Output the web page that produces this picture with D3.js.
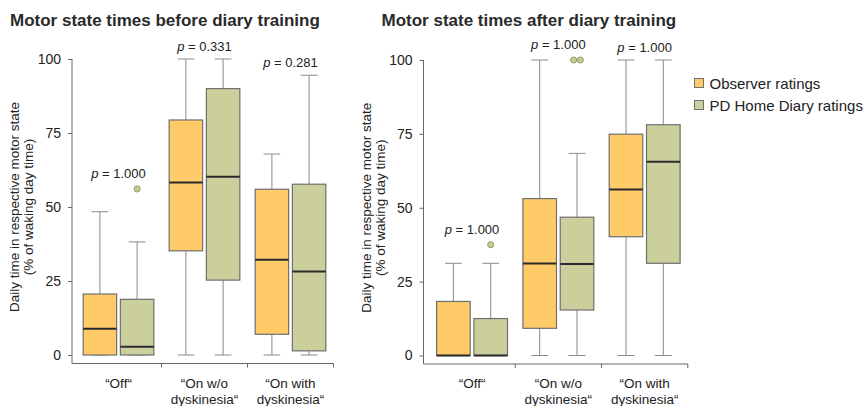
<!DOCTYPE html>
<html>
<head>
<meta charset="utf-8">
<script src="https://cdn.jsdelivr.net/npm/d3@7/dist/d3.min.js"></script>
<style>
  html, body { margin: 0; padding: 0; background: #fff; }
  svg { display: block; font-family: "Liberation Sans", Arial, Helvetica, sans-serif; }
</style>
</head>
<body>
<svg id="chart" width="866" height="406"></svg>
<script>
// Motor state categories (x axis) and rating sources (box colours)
const categories = ["Off", "On w/o dyskinesia", "On with dyskinesia"];
const categoryLines = [["\u201COff\u201C"], ["\u201COn w/o", "dyskinesia\u201C"], ["\u201COn with", "dyskinesia\u201C"]];
const series = ["Observer ratings", "PD Home Diary ratings"];
const seriesColors = ["#FECB68", "#CBCF9C"];
const yTicks = [0, 25, 50, 75, 100];

// Box statistics, % of waking day time: [whiskerLow, q1, median, q3, whiskerHigh]
const beforeObserver = [[0, 0, 8.9, 20.6, 48.4], [0, 35.2, 58.3, 79.4, 100], [0, 7.0, 32.2, 56.0, 67.9]];
const beforeDiary    = [[0, 0, 2.8, 18.8, 38.2], [0, 25.3, 60.2, 90.0, 100], [0, 1.4, 28.2, 57.7, 94.5]];
const beforeOutliersObserver = [[], [], []];
const beforeOutliersDiary    = [[56.1], [], []];
const beforePValues = ["1.000", "0.331", "0.281"];

const afterObserver = [[0, 0, 0, 18.3, 31.2], [0, 9.2, 31.1, 53.1, 100], [0, 40.2, 56.2, 74.9, 100]];
const afterDiary    = [[0, 0, 0, 12.5, 31.2], [0, 15.4, 31.0, 46.8, 68.4], [0, 31.2, 65.6, 78.1, 100]];
const afterOutliersObserver = [[], [], []];
const afterOutliersDiary    = [[37.5], [100, 100], []];
const afterPValues = ["1.000", "1.000", "1.000"];

const svg = d3.select("#chart");
const textColor = "#222";
const axisColor = "#666";

function panel(opts) {
  const g = svg.append("g");
  const y = d3.scaleLinear().domain([0, 100]).range([opts.y0, opts.y100]);
  const x = d3.scaleBand().domain(categories).range(opts.xRange).padding(0);
  const sub = d3.scaleBand().domain(series).range([0, x.step()])
    .paddingInner(0.1).paddingOuter(0.206);
  const bw = sub.bandwidth();

  // title
  g.append("text").attr("x", opts.titleX).attr("y", 26)
    .attr("font-size", 17).attr("font-weight", "bold").attr("fill", "#2a2a2a")
    .text(opts.title);

  // y axis with left ticks
  const yAxis = g.append("g").attr("transform", `translate(${opts.axisX},0)`)
    .call(d3.axisLeft(y).tickValues(yTicks).tickSize(4).tickPadding(opts.tickPad).tickFormat(d3.format("d")))
    .attr("font-family", null).attr("font-size", null);
  yAxis.select(".domain").remove();
  yAxis.selectAll(".tick line").attr("stroke", axisColor);
  yAxis.selectAll(".tick text").attr("font-size", 14).attr("fill", textColor);
  g.append("line").attr("x1", opts.axisX).attr("x2", opts.axisX)
    .attr("y1", y(100)).attr("y2", opts.xAxisY).attr("stroke", axisColor);

  // x axis: baseline with separators between categories
  g.append("line").attr("x1", opts.axisX).attr("x2", opts.xRange[1])
    .attr("y1", opts.xAxisY).attr("y2", opts.xAxisY).attr("stroke", axisColor);
  categories.forEach(c => {
    const tx = x(c) + x.step();
    g.append("line").attr("x1", tx).attr("x2", tx)
      .attr("y1", opts.xAxisY).attr("y2", opts.xAxisY + 4).attr("stroke", axisColor);
  });
  categories.forEach((c, i) => {
    const t = g.append("text").attr("text-anchor", "middle").attr("font-size", 13.5).attr("fill", textColor);
    categoryLines[i].forEach((line, j) => {
      t.append("tspan").attr("x", x(c) + x.step() / 2).attr("y", 388 + j * 15.5).text(line);
    });
  });

  // y axis title
  const yt = g.append("text").attr("text-anchor", "middle").attr("font-size", 13.5).attr("fill", textColor)
    .attr("transform", `translate(${opts.axisX - 53},${(y(0) + y(100)) / 2}) rotate(-90)`);
  yt.append("tspan").attr("x", 0).attr("y", 0).text("Daily time in respective motor state");
  yt.append("tspan").attr("x", 0).attr("y", 14).text("(% of waking day time)");

  // boxes
  const stats = [opts.observer, opts.diary];
  const outliers = [opts.outObserver, opts.outDiary];
  categories.forEach((c, ci) => {
    let groupTop = 0, hasOutlier = false;
    series.forEach((s, si) => {
      const [lo, q1, med, q3, hi] = stats[si][ci];
      const cx = x(c) + sub(s) + bw / 2;
      const bx = g.append("g");
      // whiskers
      bx.append("line").attr("x1", cx).attr("x2", cx).attr("y1", y(hi)).attr("y2", y(q3)).attr("stroke", "#8a8a8a");
      bx.append("line").attr("x1", cx).attr("x2", cx).attr("y1", y(q1)).attr("y2", y(lo)).attr("stroke", "#8a8a8a");
      [lo, hi].forEach(v => {
        bx.append("line").attr("x1", cx - bw / 4).attr("x2", cx + bw / 4)
          .attr("y1", y(v)).attr("y2", y(v)).attr("stroke", "#8a8a8a");
      });
      // box
      bx.append("rect").attr("x", x(c) + sub(s)).attr("y", y(q3))
        .attr("width", bw).attr("height", y(q1) - y(q3))
        .attr("fill", seriesColors[si]).attr("stroke", "#6f6f6f").attr("stroke-width", 1.2);
      // median
      bx.append("line").attr("x1", x(c) + sub(s)).attr("x2", x(c) + sub(s) + bw)
        .attr("y1", y(med)).attr("y2", y(med)).attr("stroke", "#2b2b2b").attr("stroke-width", 2);
      // outliers, tied values spread side by side
      const outs = outliers[si][ci];
      const counts = d3.rollup(outs, v => v.length, d => d);
      const seen = new Map();
      outs.forEach(v => {
        const k = counts.get(v), idx = seen.get(v) || 0;
        seen.set(v, idx + 1);
        bx.append("circle").attr("cx", cx + (idx - (k - 1) / 2) * 6.7).attr("cy", y(v)).attr("r", 3.1)
          .attr("fill", "#C8CB88").attr("stroke", "#8d8f6a").attr("stroke-width", 0.8);
      });
      groupTop = Math.max(groupTop, hi, ...outs);
      if (outs.length && d3.max(outs) >= hi) hasOutlier = true;
    });
    // p value label above the group
    const py = y(groupTop) - (hasOutlier ? 3.1 : 0) - 8;
    const pt = g.append("text").attr("x", x(c) + x.step() / 2).attr("y", py)
      .attr("text-anchor", "middle").attr("font-size", 13).attr("fill", textColor);
    pt.append("tspan").attr("font-style", "italic").text("p");
    pt.append("tspan").text(" = " + opts.pValues[ci]);
  });
}

panel({
  title: "Motor state times before diary training", titleX: 10,
  axisX: 72, y0: 355, y100: 59, xAxisY: 363.5, xRange: [75.5, 333.5], tickPad: 7,
  observer: beforeObserver, diary: beforeDiary,
  outObserver: beforeOutliersObserver, outDiary: beforeOutliersDiary,
  pValues: beforePValues
});

panel({
  title: "Motor state times after diary training", titleX: 381.5,
  axisX: 423.5, y0: 355.5, y100: 60, xAxisY: 364, xRange: [428.9, 687.8], tickPad: 7,
  observer: afterObserver, diary: afterDiary,
  outObserver: afterOutliersObserver, outDiary: afterOutliersDiary,
  pValues: afterPValues
});

// legend
const legend = svg.append("g").attr("transform", "translate(694.5,78.5)");
series.forEach((s, i) => {
  const row = legend.append("g").attr("transform", `translate(0,${i * 22})`);
  row.append("rect").attr("width", 9).attr("height", 9)
    .attr("fill", seriesColors[i]).attr("stroke", "#6f6f6f").attr("stroke-width", 1);
  row.append("text").attr("x", 15).attr("y", 10).attr("font-size", 15).attr("fill", textColor).text(s);
});
</script>
</body>
</html>
